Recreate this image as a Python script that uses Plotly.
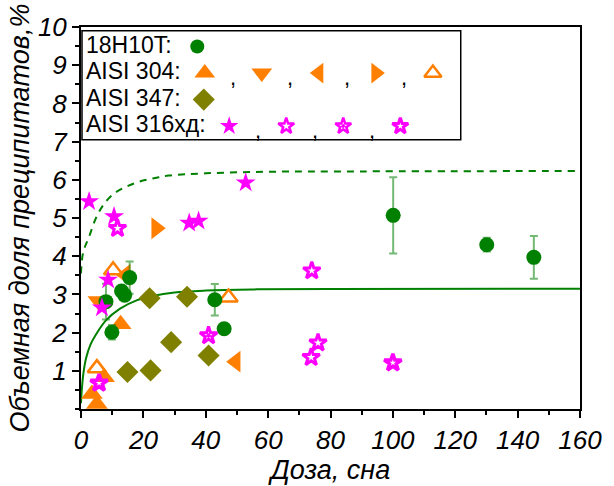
import plotly.graph_objects as go

# ---- measured data -------------------------------------------------------
# 18H10T (green circles with error bars)
h18_x = [8.0, 9.9, 13.0, 14.0, 15.6, 42.9, 45.9, 100.1, 130.1, 145.2]
h18_y = [2.81, 2.01, 3.09, 2.98, 3.44, 2.86, 2.10, 5.07, 4.30, 3.97]
h18_err = [0.47, 0.19, 0.0, 0.0, 0.42, 0.41, 0.0, 1.0, 0.18, 0.56]

# AISI 304 (orange triangles, several sources)
a304_up_x = [12.7, 3.5, 5.1, 7.4]
a304_up_y = [2.22, 0.39, 0.13, 0.83]
a304_down_x = [5.6]
a304_down_y = [2.83]
a304_left_x = [14.3, 49.6]
a304_left_y = [3.51, 1.24]
a304_right_x = [24.1]
a304_right_y = [4.73]
a304_open_x = [10.3, 47.3, 5.1]
a304_open_y = [3.63, 2.92, 1.07]

# AISI 347 (olive diamonds)
a347_x = [14.9, 22.3, 22.0, 28.9, 34.0, 40.9]
a347_y = [0.97, 1.01, 2.90, 1.75, 2.94, 1.40]

# AISI 316xd (magenta stars, several sources)
a316_fill_x = [2.6, 10.6, 34.7, 37.7, 52.8, 8.7, 6.7]
a316_fill_y = [5.43, 5.04, 4.87, 4.92, 5.92, 3.38, 2.65]
a316_b_x = [11.7, 74.0, 76.0, 73.8]
a316_b_y = [4.73, 3.62, 1.73, 1.35]
a316_c_x = [40.9]
a316_c_y = [1.92]
a316_d_x = [5.8, 100.0]
a316_d_y = [0.68, 1.21]

# saturation curves
fit_lo_x = [0, 0.3, 0.8, 1.6, 3.0, 4.8, 8.0, 12.4, 18.0, 23.0, 30.0, 40.0, 55.0, 80.0, 160.0]
fit_lo_y = [0.15, 0.55, 0.95, 1.32, 1.68, 1.95, 2.32, 2.62, 2.85, 2.96, 3.05, 3.10, 3.13, 3.14, 3.15]
fit_hi_x = [0, 0.7, 2.6, 4.8, 7.4, 10.6, 14.3, 18.6, 23.4, 28.1, 40.0, 60.0, 90.0, 160.0]
fit_hi_y = [3.55, 4.10, 4.51, 5.00, 5.37, 5.64, 5.81, 5.95, 6.04, 6.11, 6.17, 6.21, 6.22, 6.23]

x_ticks = [0, 20, 40, 60, 80, 100, 120, 140, 160]
y_ticks = [1, 2, 3, 4, 5, 6, 7, 8, 9, 10]

GREEN = "#008000"
ORANGE = "#FF7F00"
OLIVE = "#808000"
MAGENTA = "#FF00FF"
FONT = "Liberation Sans"

fig = go.Figure()

fig.add_trace(go.Scatter(x=fit_hi_x, y=fit_hi_y, mode="lines", line_shape="spline",
                         line=dict(color=GREEN, width=2, dash="7px,6px")))
fig.add_trace(go.Scatter(x=fit_lo_x, y=fit_lo_y, mode="lines", line_shape="spline",
                         line=dict(color=GREEN, width=2)))


def pts(x, y, symbol, color, size, lw=0, **kw):
    fig.add_trace(go.Scatter(x=x, y=y, mode="markers",
                             marker=dict(symbol=symbol, color=color, size=size,
                                         line=dict(color=color, width=lw)), **kw))


pts(a347_x, a347_y, "diamond", OLIVE, 17)
pts(a304_up_x, a304_up_y, "triangle-up", ORANGE, 19)
pts(a304_down_x, a304_down_y, "triangle-down", ORANGE, 19)
pts(a304_left_x, a304_left_y, "triangle-left", ORANGE, 19)
pts(a304_right_x, a304_right_y, "triangle-right", ORANGE, 19)
pts(a304_open_x, a304_open_y, "triangle-up-open", ORANGE, 16, lw=2.5)
pts(h18_x, h18_y, "circle", GREEN, 15,
    error_y=dict(type="data", array=h18_err, color="rgba(0,128,0,0.55)",
                 thickness=2, width=4))
pts(a316_fill_x, a316_fill_y, "star", MAGENTA, 15)
pts(a316_b_x, a316_b_y, "star-open", MAGENTA, 13, lw=3)
pts(a316_c_x, a316_c_y, "star-open-dot", MAGENTA, 13, lw=3)
pts(a316_d_x, a316_d_y, "star-open", MAGENTA, 13, lw=3.5)

# ---- legend box drawn in the upper-left corner -------------------------
legend_rows = [
    ("18H10T:", [("circle", GREEN, 14, 0)]),
    ("AISI 304:", [("triangle-up", ORANGE, 18, 0), ("triangle-down", ORANGE, 18, 0),
                   ("triangle-left", ORANGE, 18, 0), ("triangle-right", ORANGE, 18, 0),
                   ("triangle-up-open", ORANGE, 15, 2.5)]),
    ("AISI 347:", [("diamond", OLIVE, 17, 0)]),
    ("AISI 316хд:", [("star", MAGENTA, 14, 0), ("star-open", MAGENTA, 12, 2.5),
                     ("star-open-dot", MAGENTA, 12, 2.5), ("star-open", MAGENTA, 12, 3)]),
]
row_top = 0.954
row_step = 0.0695
first_col = [0.233, 0.248, 0.246, 0.297]
col_step = 0.1143

for i, (label, syms) in enumerate(legend_rows):
    ry = row_top - i * row_step
    fig.add_annotation(x=0.006, y=ry, xref="paper", yref="paper", text=label,
                       showarrow=False, xanchor="left", yanchor="middle",
                       font=dict(family=FONT, size=23, color="black"))
    for j, (sym, col, sz, lw) in enumerate(syms):
        cx = first_col[i] + j * col_step
        fig.add_trace(go.Scatter(x=[cx], y=[ry - 0.005], xaxis="x2", yaxis="y2", mode="markers",
                                 marker=dict(symbol=sym, color=col, size=sz,
                                             line=dict(color=col, width=lw))))
        if j < len(syms) - 1:
            fig.add_annotation(x=cx + col_step / 2, y=ry - 0.016, xref="paper", yref="paper",
                               text=",", showarrow=False, xanchor="center", yanchor="middle",
                               font=dict(family=FONT, size=22, color="black"))

fig.add_shape(type="rect", xref="paper", yref="paper", x0=0.002, x1=0.761, y0=0.705, y1=0.99,
              line=dict(color="black", width=1.5))

tick_font = dict(family=FONT, size=26, color="black")
title_font = dict(family=FONT, size=27, color="black")
fig.update_layout(
    width=614, height=486,
    margin=dict(l=81, r=31, t=20, b=59),
    plot_bgcolor="white", paper_bgcolor="white",
    showlegend=False,
    font=dict(family=FONT),
    xaxis=dict(range=[0, 160], tickvals=x_ticks, ticktext=[f"<i>{v}</i>" for v in x_ticks],
               ticks="outside", ticklen=7, tickwidth=1.5, tickcolor="black",
               minor=dict(dtick=10, ticks="outside", ticklen=4, tickcolor="black", tickwidth=1.5),
               showline=True, linecolor="black", linewidth=2, mirror=True,
               showgrid=False, zeroline=False, tickfont=tick_font,
               title=dict(text="<i>Доза, сна</i>", font=title_font, standoff=0)),
    yaxis=dict(range=[0, 10], tickvals=y_ticks, ticktext=[f"<i>{v}</i>" for v in y_ticks],
               ticks="outside", ticklen=7, tickwidth=1.5, tickcolor="black",
               minor=dict(dtick=0.5, ticks="outside", ticklen=4, tickcolor="black", tickwidth=1.5),
               showline=True, linecolor="black", linewidth=2, mirror=True,
               showgrid=False, zeroline=False, tickfont=tick_font,
               title=dict(text="<i>Объемная доля преципитатов,%</i>", font=title_font, standoff=0)),
    xaxis2=dict(overlaying="x", range=[0, 1], visible=False),
    yaxis2=dict(overlaying="y", range=[0, 1], visible=False),
)

fig.write_html("out.html")
